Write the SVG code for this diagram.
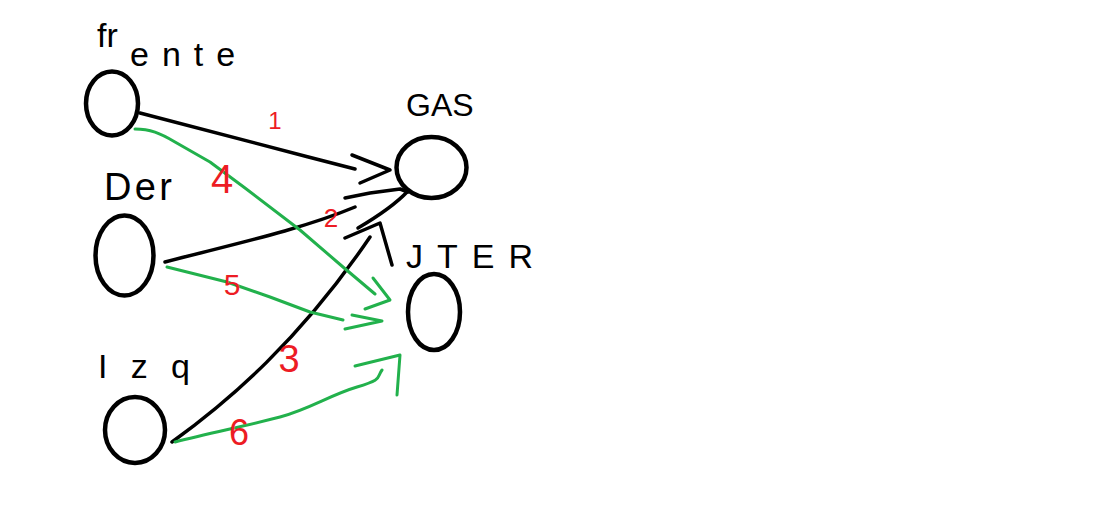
<svg xmlns="http://www.w3.org/2000/svg" width="1093" height="516" viewBox="0 0 1093 516">
<style>
.node{fill:none;stroke:#000;stroke-width:4.5}
.lbl{font-family:"Liberation Sans",Arial,sans-serif;fill:#000}
.blk{fill:none;stroke:#000;stroke-width:3.5;stroke-linecap:round;stroke-linejoin:round}
.grn{fill:none;stroke:#22b14c;stroke-width:3;stroke-linecap:round;stroke-linejoin:round}
.num{font-family:"Liberation Sans",Arial,sans-serif;fill:#ed1c24;text-anchor:middle}
</style>
<rect width="1093" height="516" fill="#fff"/>
<g id="connectors">
  <path class="blk" d="M140,113 C200,128 280,150 355,169"/>
  <polyline class="blk" points="352,155 390,170 360,183"/>
  <path class="blk" d="M165,262 C230,245 300,230 355,207"/>
  <polyline class="blk" points="345,198 370,193 400,189 408,192"/>
  <path class="blk" d="M408,191 Q392,208 358,228"/>
  <path class="blk" d="M172,442 C230,400 300,340 370,237"/>
  <polyline class="blk" points="345,238 380,223 392,265"/>
  <path class="grn" d="M135,129 C150,129 160,133 175,142 L210,162 L245,188 L300,230 L343,267 L375,294"/>
  <polyline class="grn" points="373,278 390,300 365,309"/>
  <path class="grn" d="M167,267 L227,282 L270,297 L310,312 L343,320"/>
  <polyline class="grn" points="352,315 382,321 345,329"/>
  <path class="grn" d="M175,442 C210,433 250,425 280,417 S330,395 357,387 S376,378 382,370"/>
  <polyline class="grn" points="355,366 400,355 397,395"/>
  <text class="num" x="275" y="129" font-size="24">1</text>
  <text class="num" x="222" y="193" font-size="40">4</text>
  <text class="num" x="331" y="227" font-size="26">2</text>
  <text class="num" x="232" y="295" font-size="30">5</text>
  <text class="num" x="289" y="372" font-size="38">3</text>
  <text class="num" x="239" y="445" font-size="36">6</text>
</g>
<g id="frente">
  <ellipse class="node" cx="112" cy="103.5" rx="26" ry="32"/>
  <text class="lbl" font-size="34"><tspan x="97" y="47">fr</tspan><tspan x="130" y="66" letter-spacing="13">ente</tspan></text>
</g>
<g id="der">
  <ellipse class="node" cx="124.5" cy="255.5" rx="29" ry="40"/>
  <text class="lbl" x="104" y="200" font-size="38" textLength="68" lengthAdjust="spacing">Der</text>
</g>
<g id="izq">
  <ellipse class="node" cx="135" cy="430" rx="30" ry="33"/>
  <text class="lbl" x="98" y="378" font-size="34" textLength="92" lengthAdjust="spacing">Izq</text>
</g>
<g id="gas">
  <ellipse class="node" cx="431.5" cy="167.5" rx="35" ry="30.5"/>
  <text class="lbl" x="406" y="116" font-size="32">GAS</text>
</g>
<g id="jter">
  <ellipse class="node" cx="434" cy="312" rx="26" ry="38"/>
  <text class="lbl" x="406" y="268" font-size="34" textLength="127" lengthAdjust="spacing">JTER</text>
</g>
</svg>
